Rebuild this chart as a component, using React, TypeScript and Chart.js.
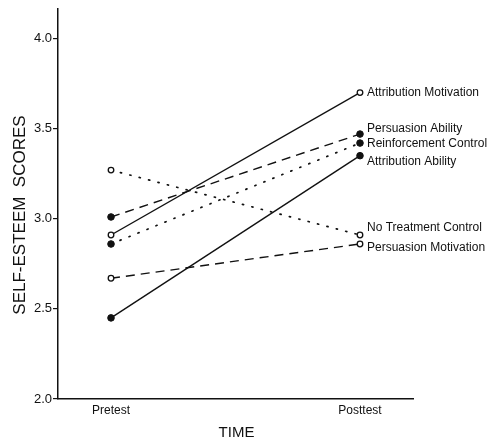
import React, { useEffect, useRef } from 'react';
import { Chart, registerables } from 'chart.js';

Chart.register(...registerables);

// ---- data ----
const timeLabels = ['Pretest', 'Posttest'];
const groupNames = [
  'Attribution Motivation',
  'Persuasion Ability',
  'Reinforcement Control',
  'Attribution Ability',
  'No Treatment Control',
  'Persuasion Motivation',
];
const attributionMotivation = [2.91, 3.7];
const persuasionAbility = [3.01, 3.47];
const reinforcementControl = [2.86, 3.42];
const attributionAbility = [2.45, 3.35];
const noTreatmentControl = [3.27, 2.91];
const persuasionMotivation = [2.67, 2.86];
const yTickValues = [2.0, 2.5, 3.0, 3.5, 4.0];
const yAxisTitle = 'SELF-ESTEEM  SCORES';
const xAxisTitle = 'TIME';

const seriesValues = [
  attributionMotivation,
  persuasionAbility,
  reinforcementControl,
  attributionAbility,
  noTreatmentControl,
  persuasionMotivation,
];

// ---- styles (kept apart from data) ----
const SOLID: number[] = [];
const DASHED = [9, 6];
const DOTTED = [1.2, 8.5];
const seriesStyles = [
  { dash: SOLID, filled: false, labelDy: 0 },
  { dash: DASHED, filled: true, labelDy: -5 },
  { dash: DOTTED, filled: true, labelDy: 1 },
  { dash: SOLID, filled: true, labelDy: 6 },
  { dash: DOTTED, filled: false, labelDy: -7 },
  { dash: DASHED, filled: false, labelDy: 4 },
];

const INK = '#111';
const FONT = '"Liberation Sans", Arial, sans-serif';

const annotationPlugin = {
  id: 'annotations',
  afterDatasetsDraw(chart: any) {
    const ctx = chart.ctx;
    ctx.save();
    ctx.fillStyle = INK;
    ctx.font = `12px ${FONT}`;
    ctx.textAlign = 'left';
    ctx.textBaseline = 'middle';
    chart.data.datasets.forEach((ds: any, i: number) => {
      const meta = chart.getDatasetMeta(i);
      const pt = meta.data[meta.data.length - 1];
      if (!pt) return;
      ctx.fillText(ds.label, pt.x + 7, pt.y + seriesStyles[i].labelDy);
    });
    ctx.restore();
  },
  afterDraw(chart: any) {
    const ctx = chart.ctx;
    const area = chart.chartArea;
    ctx.save();
    ctx.fillStyle = INK;
    // y axis title
    ctx.font = `17px ${FONT}`;
    ctx.textAlign = 'center';
    ctx.textBaseline = 'middle';
    ctx.translate(20, 215);
    ctx.rotate(-Math.PI / 2);
    ctx.fillText(yAxisTitle, 0, 0);
    ctx.restore();
    ctx.save();
    ctx.fillStyle = INK;
    ctx.font = `15px ${FONT}`;
    ctx.textAlign = 'center';
    ctx.textBaseline = 'middle';
    ctx.fillText(xAxisTitle, (area.left + area.right) / 2 + 1, 433);
    ctx.restore();
  },
};

export default function App() {
  const canvasRef = useRef<HTMLCanvasElement | null>(null);

  useEffect(() => {
    if (!canvasRef.current) return;
    const datasets = groupNames.map((name, i) => {
      const st = seriesStyles[i];
      return {
        label: name,
        data: seriesValues[i].map((v, j) => ({ x: j, y: v })),
        borderColor: INK,
        borderWidth: st.dash === DOTTED ? 1.7 : 1.4,
        borderDash: st.dash,
        borderCapStyle: st.dash === DOTTED ? 'round' : 'butt',
        pointRadius: st.filled ? 3.3 : 2.8,
        pointBorderWidth: st.filled ? 1 : 1.3,
        pointBackgroundColor: st.filled ? INK : '#fff',
        pointBorderColor: INK,
        fill: false,
        tension: 0,
      };
    });

    const chart = new Chart(canvasRef.current, {
      type: 'line',
      data: { datasets } as any,
      options: {
        animation: false,
        responsive: false,
        events: [],
        layout: { padding: { left: 0, top: 5, right: 82, bottom: 0 } },
        plugins: {
          legend: { display: false },
          tooltip: { enabled: false },
          title: { display: false },
        },
        scales: {
          x: {
            type: 'linear',
            min: -0.2129,
            max: 1.2129,
            afterBuildTicks: (scale: any) => {
              scale.ticks = timeLabels.map((_, i) => ({ value: i }));
            },
            afterFit: (scale: any) => {
              scale.height = 44;
            },
            ticks: {
              autoSkip: false,
              maxRotation: 0,
              padding: 4,
              color: INK,
              font: { family: FONT, size: 12 },
              callback: (v: any) => timeLabels[Math.round(Number(v))] ?? '',
            },
            grid: { drawOnChartArea: false, drawTicks: false },
            border: { display: true, color: INK, width: 1.5 },
          },
          y: {
            type: 'linear',
            min: 2,
            max: 4.165,
            afterBuildTicks: (scale: any) => {
              scale.ticks = yTickValues.map((v) => ({ value: v }));
            },
            afterFit: (scale: any) => {
              scale.width = 58;
            },
            ticks: {
              padding: 1,
              color: INK,
              font: { family: FONT, size: 13 },
              callback: (v: any) => Number(v).toFixed(1),
            },
            grid: {
              drawOnChartArea: false,
              drawTicks: true,
              tickLength: 5,
              color: INK,
              lineWidth: 1.2,
            },
            border: { display: true, color: INK, width: 1.5 },
          },
        },
      },
      plugins: [annotationPlugin],
    } as any);

    return () => chart.destroy();
  }, []);

  return (
    <div style={{ position: 'absolute', left: 0, top: 0, width: 495, height: 443, background: '#fff' }}>
      <canvas ref={canvasRef} width={495} height={443} style={{ display: 'block' }} />
    </div>
  );
}
